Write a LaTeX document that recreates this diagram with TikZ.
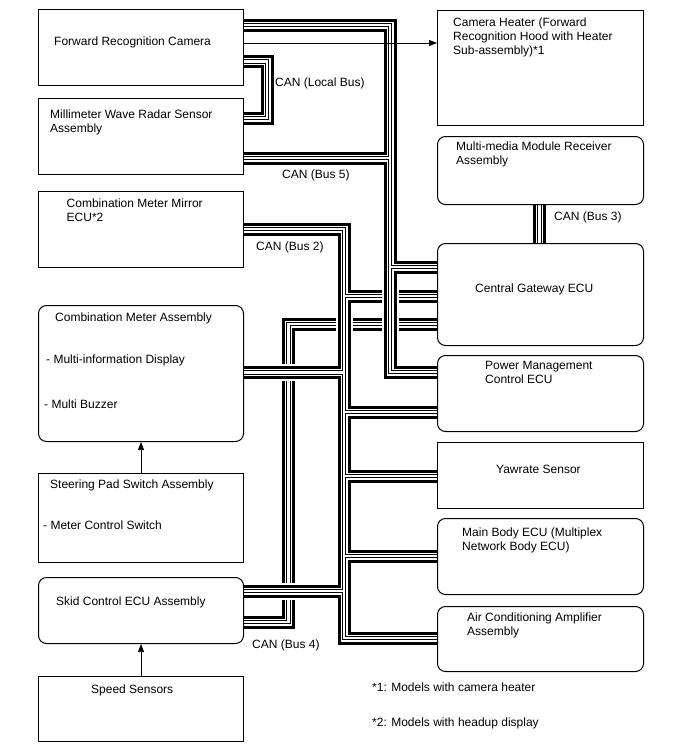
\documentclass[tikz,border=0pt]{standalone}
\usepackage{fontspec}
\setmainfont{Liberation Sans}
\usetikzlibrary{arrows.meta}
\begin{document}
\begin{tikzpicture}[x=1pt,y=-1pt,
  box/.style={draw=black, line width=1pt, fill=white, inner sep=0pt, anchor=north west},
  rbox/.style={box, rounded corners=8pt},
  txt/.style={anchor=base west, inner sep=0pt, font=\fontsize{12}{14}\selectfont},
  sig/.style={line width=0.7pt, -{Triangle[length=8pt,width=6pt]}},
  line join=miter
]
\useasboundingbox (0,0) rectangle (688,755);
\fill[white] (0,0) rectangle (688,755);

% ---------- box frames (anchors only) ----------
\path
  (38,9)    node[box, draw=none, fill=none, minimum width=205pt, minimum height=76pt]  (cam) {}
  (38,98)   node[box, draw=none, fill=none, minimum width=205pt, minimum height=76pt]  (radar) {}
  (38,191)  node[box, draw=none, fill=none, minimum width=205pt, minimum height=76pt]  (mirror) {}
  (38,305)  node[box, draw=none, fill=none, minimum width=205pt, minimum height=136pt] (meter) {}
  (38,473)  node[box, draw=none, fill=none, minimum width=205pt, minimum height=89pt]  (steer) {}
  (38,577)  node[box, draw=none, fill=none, minimum width=205pt, minimum height=66pt]  (skid) {}
  (38,676)  node[box, draw=none, fill=none, minimum width=205pt, minimum height=65pt]  (speed) {}
  (437,10)  node[box, draw=none, fill=none, minimum width=206pt, minimum height=115pt] (heater) {}
  (437,136) node[box, draw=none, fill=none, minimum width=206pt, minimum height=68pt]  (mm) {}
  (437,243) node[box, draw=none, fill=none, minimum width=206pt, minimum height=102pt] (cg) {}
  (437,355) node[box, draw=none, fill=none, minimum width=206pt, minimum height=76pt]  (pmc) {}
  (437,442) node[box, draw=none, fill=none, minimum width=206pt, minimum height=66pt]  (yaw) {}
  (437,518) node[box, draw=none, fill=none, minimum width=206pt, minimum height=76pt]  (mb) {}
  (437,606) node[box, draw=none, fill=none, minimum width=206pt, minimum height=65pt]  (ac) {};

% junction coordinates
\coordinate (b5x) at (390,0);
\coordinate (b2x) at (344,0);
\coordinate (b4x) at (288.5,0);

% ---------- CAN (Bus 4) ----------
\foreach \w/\c in {13/black,7/white,4.6/black,2.2/white}{
  \draw[line width=\w pt, draw=\c] (skid.east|-0,622) -| (b4x|-0,324) -- (cg.west|-0,324);
}
% ---------- CAN (Bus 2) ----------
\foreach \w/\c in {17/white,13/black,7/white,4.6/black,2.2/white}{
  \draw[line width=\w pt, draw=\c] (mirror.east|-0,229) -- (b2x|-0,229) -- (b2x|-0,638) -- (ac.west|-0,638);
  \draw[line width=\w pt, draw=\c] (b2x|-0,296) -- (cg.west|-0,296);
  \draw[line width=\w pt, draw=\c] (meter.east|-0,372.5) -- (b2x|-0,372.5);
  \draw[line width=\w pt, draw=\c] (b2x|-0,412) -- (pmc.west|-0,412);
  \draw[line width=\w pt, draw=\c] (b2x|-0,476) -- (yaw.west|-0,476);
  \draw[line width=\w pt, draw=\c] (b2x|-0,556) -- (mb.west|-0,556);
  \draw[line width=\w pt, draw=\c] (skid.east|-0,591) -- (b2x|-0,591);
}
% ---------- CAN (Bus 5) ----------
\foreach \w/\c in {17/white,13/black,7/white,4.6/black,2.2/white}{
  \draw[line width=\w pt, draw=\c] (cam.east|-0,25) -- (b5x|-0,25) -- (b5x|-0,372) -- (pmc.west|-0,372);
  \draw[line width=\w pt, draw=\c] (radar.east|-0,158) -- (b5x|-0,158);
  \draw[line width=\w pt, draw=\c] (b5x|-0,267) -- (cg.west|-0,267);
}
% ---------- CAN (Local Bus) and CAN (Bus 3) ----------
\foreach \w/\c in {13/black,7/white,4.6/black,2.2/white}{
  \draw[line width=\w pt, draw=\c] (cam.east|-0,61.5) -- (267,61.5) -- (267,118) -- (radar.east|-0,118);
  \draw[line width=\w pt, draw=\c] (539.5,0|-mm.south) -- (539.5,0|-cg.north);
}

% ---------- visible boxes ----------
\node[box, minimum width=205pt, minimum height=76pt]  (camB) at (38,9) {};
\node[box, minimum width=205pt, minimum height=76pt]  (radarB) at (38,98) {};
\node[box, minimum width=205pt, minimum height=76pt]  (mirrorB) at (38,191) {};
\node[rbox, minimum width=205pt, minimum height=136pt] (meterB) at (38,305) {};
\node[box, minimum width=205pt, minimum height=89pt]  (steerB) at (38,473) {};
\node[rbox, minimum width=205pt, minimum height=66pt]  (skidB) at (38,577) {};
\node[box, minimum width=205pt, minimum height=65pt]  (speedB) at (38,676) {};
\node[box, minimum width=206pt, minimum height=115pt] (heaterB) at (437,10) {};
\node[rbox, minimum width=206pt, minimum height=68pt]  (mmB) at (437,136) {};
\node[rbox, minimum width=206pt, minimum height=102pt] (cgB) at (437,243) {};
\node[rbox, minimum width=206pt, minimum height=76pt]  (pmcB) at (437,355) {};
\node[box, minimum width=206pt, minimum height=66pt]  (yawB) at (437,442) {};
\node[rbox, minimum width=206pt, minimum height=76pt]  (mbB) at (437,518) {};
\node[rbox, minimum width=206pt, minimum height=65pt]  (acB) at (437,606) {};

% ---------- signal arrows ----------
\draw[sig] (camB.east|-0,43) -- (heaterB.west|-0,43);
\draw[sig] (steerB.north) -- (meterB.south);
\draw[sig] (speedB.north) -- (skidB.south);

% ---------- texts ----------
\node[txt] (t1)  at (54,45)   {Forward Recognition Camera};
\node[txt] (t2)  at (50,118)  {Millimeter Wave Radar Sensor};
\node[txt] (t3)  at (50,132)  {Assembly};
\node[txt] (t4)  at (66.5,207) {Combination Meter Mirror};
\node[txt] (t5)  at (66.5,221) {ECU*2};
\node[txt] (t6)  at (55,321)  {Combination Meter Assembly};
\node[txt] (t7)  at (46,363)  {- Multi-information Display};
\node[txt] (t8)  at (44,408)  {- Multi Buzzer};
\node[txt] (t9)  at (50,488)  {Steering Pad Switch Assembly};
\node[txt] (t10) at (43,529)  {- Meter Control Switch};
\node[txt] (t11) at (56,605)  {Skid Control ECU Assembly};
\node[txt] (t12) at (91,693)  {Speed Sensors};
\node[txt] (t13) at (453,26)  {Camera Heater (Forward};
\node[txt] (t14) at (453,40)  {Recognition Hood with Heater};
\node[txt] (t15) at (453,54)  {Sub-assembly)*1};
\node[txt] (t16) at (456,150) {Multi-media Module Receiver};
\node[txt] (t17) at (456,164) {Assembly};
\node[txt] (t18) at (554,220) {CAN (Bus 3)};
\node[txt] (t19) at (475,292) {Central Gateway ECU};
\node[txt] (t20) at (485,369) {Power Management};
\node[txt] (t21) at (485,383) {Control ECU};
\node[txt] (t22) at (496,473) {Yawrate Sensor};
\node[txt] (t23) at (462,536) {Main Body ECU (Multiplex};
\node[txt] (t24) at (462,550) {Network Body ECU)};
\node[txt] (t25) at (467,621) {Air Conditioning Amplifier};
\node[txt] (t26) at (467,635) {Assembly};
\node[txt] (t27) at (372,691) {*1: Models with camera heater};
\node[txt] (t28) at (372,726) {*2: Models with headup display};
\node[txt] (t29) at (275,86)  {CAN (Local Bus)};
\node[txt] (t30) at (282,178) {CAN (Bus 5)};
\node[txt] (t31) at (256,250) {CAN (Bus 2)};
\node[txt] (t32) at (252,648) {CAN (Bus 4)};
\end{tikzpicture}
\end{document}
